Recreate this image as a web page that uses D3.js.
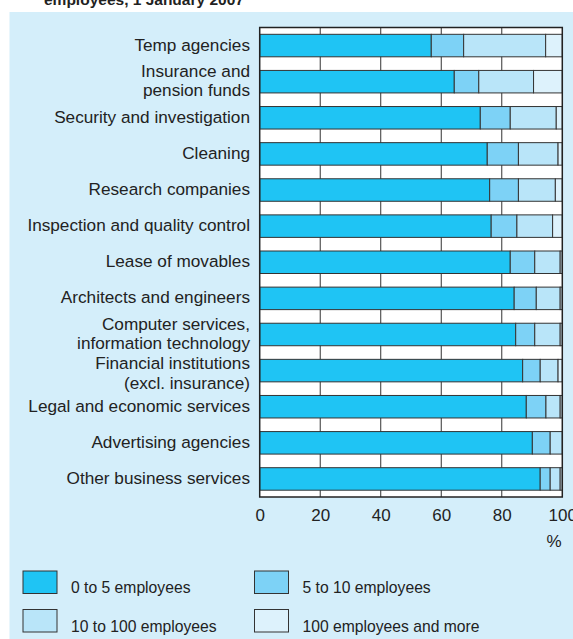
<!DOCTYPE html>
<html><head><meta charset="utf-8">
<script src="https://cdn.jsdelivr.net/npm/d3@7"></script>
<style>html,body{margin:0;padding:0;background:#fff;}svg{display:block;font-family:"Liberation Sans",Arial,Helvetica,sans-serif;}</style>
</head><body>
<script>
const categories = ["Temp agencies","Insurance and\npension funds","Security and investigation","Cleaning","Research companies","Inspection and quality control","Lease of movables","Architects and engineers","Computer services,\ninformation technology","Financial institutions\n(excl. insurance)","Legal and economic services","Advertising agencies","Other business services"];
const seriesNames = ["0 to 5 employees","5 to 10 employees","10 to 100 employees","100 employees and more"];
const s0to5   = [56.7,64.3,72.9,75.2,76.0,76.5,82.8,84.1,84.6,86.9,88.1,90.1,92.7];
const s5to10  = [10.7, 8.1, 9.9,10.3, 9.5, 8.5, 8.1, 7.3, 6.3, 5.8, 6.5, 5.9, 3.3];
const s10to100= [27.1,18.1,15.2,13.1,12.2,11.8, 8.4, 7.9, 8.4, 5.9, 4.7, 4.0, 3.3];
const s100plus= [ 5.5, 9.5, 2.0, 1.4, 2.3, 3.2, 0.7, 0.7, 0.7, 1.4, 0.7, 0.0, 0.7];
const xTicks = [0,20,40,60,80,100];
const colors = ["#1fc4f4","#7dd2f6","#b9e5f9","#ddf2fc"];

const W=573,H=639;
const svg=d3.select("body").append("svg").attr("width",W).attr("height",H);
svg.append("text").attr("x",44).attr("y",4.5).attr("font-size",15.5).attr("font-weight","bold").attr("fill","#222").text("employees, 1 January 2007");
svg.append("rect").attr("x",9.5).attr("y",12).attr("width",W-9.5).attr("height",H-12).attr("fill","#d4eefa");

const x=d3.scaleLinear().domain([0,100]).range([259.7,562.3]);
const y=d3.scaleBand().domain(categories).range([27.5,497]).paddingInner(0.377).paddingOuter(0.1885);

svg.append("rect").attr("x",x(0)).attr("y",27.5).attr("width",x(100)-x(0)).attr("height",497-27.5).attr("fill","#fff");
svg.append("g").selectAll("line").data(xTicks.slice(1,-1)).join("line")
  .attr("x1",d=>x(d)).attr("x2",d=>x(d)).attr("y1",27.5).attr("y2",497).attr("stroke","#333").attr("stroke-width",1);

const rows=categories.map((c,i)=>({c,vals:[s0to5[i],s5to10[i],s10to100[i],s100plus[i]]}));
const stackData=rows.map(r=>{let acc=0;return {c:r.c,segs:r.vals.map((v,k)=>{const s={k,x0:acc,x1:acc+v};acc+=v;return s;})};});
const bars=svg.append("g").selectAll("g").data(stackData).join("g");
bars.selectAll("rect").data(d=>d.segs.filter(s=>s.x1-s.x0>0).map(s=>({...s,c:d.c}))).join("rect")
  .attr("x",s=>x(s.x0)).attr("width",s=>Math.max(0,x(Math.min(100,s.x1))-x(s.x0)))
  .attr("y",s=>y(s.c)).attr("height",y.bandwidth())
  .attr("fill",s=>colors[s.k]).attr("stroke","#333").attr("stroke-width",1);

svg.append("rect").attr("x",x(0)).attr("y",27.5).attr("width",x(100)-x(0)).attr("height",497-27.5).attr("fill","none").attr("stroke","#222").attr("stroke-width",1.5);

// category labels
const lab=svg.append("g").attr("font-size",17.2).attr("fill","#222").attr("text-anchor","end");
categories.forEach((c,ci)=>{
  const lines=c.split("\n");const lh=19.5;
  const nudge = (ci===9) ? 3.5 : 0;
  const cy=y(c)+y.bandwidth()/2+nudge;
  const t=lab.append("text").attr("x",250).attr("y",cy);
  lines.forEach((ln,i)=>{t.append("tspan").attr("x",250).attr("y",cy+5+(i-(lines.length-1)/2)*lh).text(ln);});
});

// x axis
const ax=svg.append("g").attr("transform","translate(0,497)").call(d3.axisBottom(x).tickValues(xTicks).tickSize(0).tickPadding(0));
ax.select(".domain").remove();
ax.selectAll("text").attr("font-size",17).attr("fill","#222").attr("dy",0).attr("y",24).attr("font-family","Liberation Sans, Arial, sans-serif");
svg.append("text").attr("x",554).attr("y",547).attr("text-anchor","middle").attr("font-size",17).attr("fill","#222").text("%");

// legend
const leg=svg.append("g");
const lpos=[[23,571],[254.5,571],[23,609.5],[254.5,609.5]];
seriesNames.forEach((n,i)=>{
  const [lx,ly]=lpos[i];
  leg.append("rect").attr("x",lx).attr("y",ly).attr("width",34).attr("height",22.5).attr("fill",colors[i]).attr("stroke","#333").attr("stroke-width",1);
  leg.append("text").attr("x",lx+48).attr("y",ly+22).attr("font-size",15.7).attr("fill","#222").text(n);
});
</script>
</body></html>
